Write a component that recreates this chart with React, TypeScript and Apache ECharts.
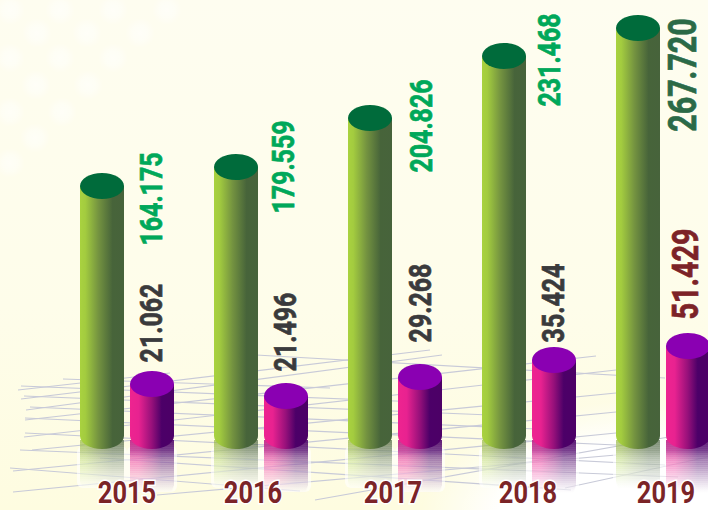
import React, { useEffect, useRef } from "react";
import * as echarts from "echarts";

const years = ["2015", "2016", "2017", "2018", "2019"];
// Printed figures of the infographic.
const greenLabels = ["164.175", "179.559", "204.826", "231.468", "267.720"];
const pinkLabels = ["21.062", "21.496", "29.268", "35.424", "51.429"];
// The original's column heights are not proportional to its printed figures,
// so the drawn heights are read from the picture, in axis units.
const greenHeights = [250, 269, 318, 380, 408];
const pinkHeights = [52, 40, 59, 76, 90];

const FONT = '"Roboto", sans-serif';
const RX = 22, RY = 13, GROUP_OFFSET = 25;

const greenLabelPos = [[151, 199], [283, 167], [421, 126], [549, 60], [683, 75]];
const pinkLabelPos = [[151, 323], [285, 332], [420, 303], [553, 303], [685.5, 274]];
const yearX = [127, 253, 393, 528, 666];

const grad = (stops: [number, string][]) =>
  new echarts.graphic.LinearGradient(0, 0, 1, 0, stops.map(([offset, color]) => ({ offset, color })));
const greenBody = () => grad([[0, "#A9D23F"], [0.12, "#A3CC3F"], [0.42, "#749340"], [0.74, "#47643A"], [1, "#47633B"]]);
const pinkBody = () => grad([[0, "#EE2490"], [0.2, "#E82290"], [0.5, "#95107A"], [0.72, "#4C0068"], [1, "#4C0066"]]);

function cylinder(api: any, side: number, topColor: string, bodyFn: () => any, reflMax: number, reflEnd: number, shade: string) {
  const base = api.coord([api.value(0), 0]);
  const top = api.coord([api.value(0), api.value(1)]);
  const cx = base[0] + side * GROUP_OFFSET;
  const children: any[] = [];
  const y0 = base[1] + 4;
  const steps = Math.round((reflEnd - y0) / 2);
  // white halo round the reflection
  children.push({
    type: "rect",
    shape: { x: cx - RX - 3, y: y0 + 6, width: 2 * RX + 6, height: reflEnd - y0 - 6, r: 6 },
    style: { fill: "rgba(255,255,255,0.6)" },
  });
  for (let k = 0; k < steps; k++) {
    const t = k / steps;
    const inset = t > 0.85 ? (t - 0.85) * 20 : 0;
    children.push({
      type: "rect",
      shape: { x: cx - RX + inset, y: y0 + k * 2, width: 2 * RX - 2 * inset, height: 2.2 },
      style: { fill: bodyFn(), opacity: reflMax * Math.pow(1 - t, 1.25) },
    });
  }
  // darker band just under the column
  children.push({
    type: "rect",
    shape: { x: cx - RX, y: y0, width: 2 * RX, height: 24 },
    style: {
      fill: new echarts.graphic.LinearGradient(0, 0, 0, 1, [
        { offset: 0, color: shade },
        { offset: 0.45, color: shade },
        { offset: 1, color: "rgba(255,255,255,0)" },
      ]),
    },
  });
  children.push(
    { type: "rect", shape: { x: cx - RX, y: top[1], width: 2 * RX, height: base[1] - top[1] }, style: { fill: bodyFn() } },
    { type: "ellipse", shape: { cx, cy: base[1], rx: RX, ry: RY }, style: { fill: bodyFn() } },
    { type: "ellipse", shape: { cx, cy: top[1], rx: RX, ry: RY }, style: { fill: topColor } },
  );
  return { type: "group", children };
}

const vText = (text: string, pos: number[], size: number, fill: string) => ({
  type: "text",
  x: pos[0],
  y: pos[1],
  rotation: Math.PI / 2,
  scaleX: 0.78,
  z2: 10,
  style: {
    text, fill, font: `bold ${size}px ${FONT}`, textAlign: "center", textVerticalAlign: "middle", verticalAlign: "middle",
    stroke: fill, lineWidth: 0.7,
  },
});

// Floor grid of the picture (decoration, not data).
const floorLines: number[][] = [
  [63, 379, 330, 388], [21, 386, 420, 402], [24, 396, 490, 415], [30, 407, 560, 430], [25, 418, 616, 445],
  [25, 433, 665, 465], [20, 450, 678, 477], [10, 468, 300, 491], [100, 458, 571, 490], [256, 355, 665, 378],
  [18, 390, 170, 373], [21, 399, 430, 350], [26, 410, 442, 355], [25, 420, 596, 356], [24, 437, 616, 370],
  [32, 450, 616, 393], [13, 471, 616, 412], [13, 492, 616, 433], [157, 495, 616, 455], [315, 500, 708, 430],
  [565, 488, 708, 457],
];
const bokeh: number[][] = [
  [10, 10], [60, 10], [113, 10], [167, 10], [37, 33], [87, 33], [140, 33], [10, 58], [60, 58], [113, 58],
  [36, 85], [88, 85], [10, 112], [62, 112], [35, 138], [10, 163],
];

export default function App() {
  const ref = useRef<HTMLDivElement>(null);
  useEffect(() => {
    document.body.style.margin = "0";
    const chart = echarts.init(ref.current!, undefined, { renderer: "svg" });
    const graphic: any[] = [
      {
        type: "rect", z: -10, shape: { x: 0, y: 0, width: 708, height: 510 },
        style: { fill: new echarts.graphic.LinearGradient(0, 0, 0, 1, [
          { offset: 0, color: "#FEFDF0" }, { offset: 0.6, color: "#FEFDEA" }, { offset: 1, color: "#FEFCE0" },
        ]) },
      },
      ...bokeh.map(([x, y]) => ({
        type: "circle", z: -9, shape: { cx: x, cy: y, r: 15 },
        style: { fill: new echarts.graphic.RadialGradient(0.5, 0.5, 0.5, [
          { offset: 0, color: "rgba(255,255,255,0.55)" }, { offset: 0.5, color: "rgba(255,255,255,0.4)" }, { offset: 1, color: "rgba(255,255,255,0)" },
        ]) },
      })),
      {
        type: "ellipse", z: -8, shape: { cx: 650, cy: 520, rx: 230, ry: 120 },
        style: { fill: new echarts.graphic.RadialGradient(0.5, 0.5, 0.5, [
          { offset: 0, color: "rgba(255,255,255,1)" }, { offset: 0.65, color: "rgba(255,255,255,1)" }, { offset: 1, color: "rgba(255,255,255,0)" },
        ]) },
      },
      ...floorLines.map(([x1, y1, x2, y2]) => ({
        type: "line", z: -7, shape: { x1, y1, x2, y2 }, style: { stroke: "#C8CAD8", lineWidth: 1.2 },
      })),
    ];
    chart.setOption({
      animation: false,
      tooltip: { show: false },
      graphic,
      grid: { left: 60, top: 0, width: 670, height: 436, outerBoundsMode: "none", containLabel: false },
      xAxis: { type: "category", data: years, show: false },
      yAxis: { type: "value", min: 0, max: 436, show: false },
      series: [
        {
          type: "custom",
          name: "green",
          encode: { x: 0, y: 1 },
          data: greenHeights.map((v, i) => [i, v]),
          renderItem: (_: any, api: any) => {
            const i = api.value(0);
            const g: any = cylinder(api, -1, "#006B3B", greenBody, 0.6, 488, "rgba(90,100,80,0.15)");
            g.children.push(
              vText(greenLabels[i], greenLabelPos[i], i === 4 ? 39 : 32, i === 4 ? "#2B6A47" : "#00A85A"),
            );
            return g;
          },
        },
        {
          type: "custom",
          name: "pink",
          encode: { x: 0, y: 1 },
          data: pinkHeights.map((v, i) => [i, v]),
          renderItem: (_: any, api: any) => {
            const i = api.value(0);
            const g: any = cylinder(api, 1, "#8A00B2", pinkBody, 0.8, 492, "rgba(75,0,110,0.25)");
            g.children.push(
              vText(pinkLabels[i], pinkLabelPos[i], i === 4 ? 37 : 32, i === 4 ? "#7C2327" : "#3A3A3C"),
            );
            return g;
          },
        },
        {
          type: "custom",
          name: "years",
          z: 5,
          encode: { x: 0, y: 1 },
          data: years.map((_, i) => [i, 0]),
          renderItem: (_: any, api: any) => {
            const i = api.value(0);
            return {
              type: "text",
              x: yearX[i],
              y: 493,
              scaleX: 0.82,
              style: {
                text: years[i], fill: "#7B2427", font: `bold 31px ${FONT}`,
                textAlign: "center", textVerticalAlign: "middle", verticalAlign: "middle",
                stroke: "#FFFFFF", lineWidth: 3,
              },
            };
          },
        },
      ],
    });
    return () => chart.dispose();
  }, []);
  return <div ref={ref} style={{ position: "absolute", left: 0, top: 0, width: 708, height: 510 }} />;
}
